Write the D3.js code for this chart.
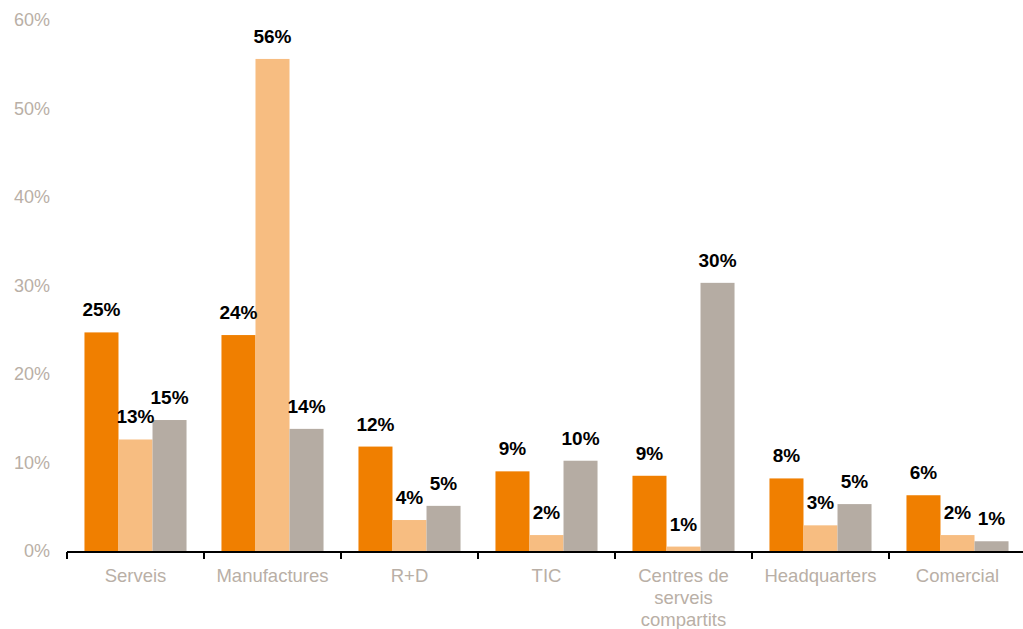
<!DOCTYPE html>
<html>
<head>
<meta charset="utf-8">
<script src="https://cdn.jsdelivr.net/npm/d3@7"></script>
<style>
  body { margin: 0; background: #fff; }
  svg text { font-family: "Liberation Sans", Arial, Helvetica, sans-serif; }
</style>
</head>
<body>
<main></main>
<script>
// categories and series
var categories = ["Serveis", "Manufactures", "R+D", "TIC", "Centres de serveis compartits", "Headquarters", "Comercial"];
var seriesA = [24.7, 24.4, 11.8, 9.0, 8.5, 8.2, 6.3];
var seriesB = [12.6, 55.6, 3.5, 1.8, 0.5, 2.9, 1.8];
var seriesC = [14.8, 13.8, 5.1, 10.2, 30.3, 5.3, 1.1];
var valueLabels = [
  ["25%", "24%", "12%", "9%", "9%", "8%", "6%"],
  ["13%", "56%", "4%", "2%", "1%", "3%", "2%"],
  ["15%", "14%", "5%", "10%", "30%", "5%", "1%"]
];
var yTicks = [0, 10, 20, 30, 40, 50, 60];
var seriesKeys = ["a", "b", "c"];
var colors = { a: "#f07f00", b: "#f7bd81", c: "#b5aca3" };

var svg = d3.select("main").append("svg").attr("width", 1023).attr("height", 629),
    mLeft = 67, mRight = 1026, mTop = 20, mBottom = 551;

var rows = categories.map(function(c, i){
  return { cat: c, i: i, a: seriesA[i], b: seriesB[i], c: seriesC[i] };
});

var x = d3.scaleBand().domain(categories).range([mLeft, mRight]).paddingInner(0.255).paddingOuter(0.1275);
var x1 = d3.scaleBand().domain(seriesKeys).range([0, x.bandwidth()]);
var y = d3.scaleLinear().domain([0, 60]).range([mBottom, mTop]);

// y tick labels (no axis line)
svg.append("g").selectAll("text")
  .data(yTicks)
  .enter().append("text")
    .attr("x", 50)
    .attr("y", d => y(d))
    .attr("dy", "0.35em")
    .attr("text-anchor", "end")
    .attr("fill", "#b9afa6")
    .style("font-size", "18px")
    .text(d => d + "%");

// bars
var groups = svg.append("g").selectAll("g")
  .data(rows)
  .enter().append("g")
    .attr("transform", d => "translate(" + x(d.cat) + ",0)");

function cells(d) {
  return seriesKeys.map((k, j) => ({ key: k, value: d[k], label: valueLabels[j][d.i] }));
}

groups.selectAll("rect")
  .data(cells)
  .enter().append("rect")
    .attr("x", d => x1(d.key))
    .attr("y", d => y(d.value))
    .attr("width", x1.bandwidth())
    .attr("height", d => y(0) - y(d.value))
    .attr("fill", d => colors[d.key]);

groups.selectAll("text")
  .data(cells)
  .enter().append("text")
    .attr("x", d => x1(d.key) + x1.bandwidth() / 2)
    .attr("y", d => y(d.value) - 16)
    .attr("text-anchor", "middle")
    .attr("fill", "#000")
    .style("font-size", "19px")
    .style("font-weight", "bold")
    .text(d => d.label);

// x axis line + ticks between categories
var step = x.step();
var axis = svg.append("g");
axis.append("line")
  .attr("x1", mLeft).attr("x2", mRight)
  .attr("y1", mBottom + 1).attr("y2", mBottom + 1)
  .attr("stroke", "#000").attr("stroke-width", 2);

axis.selectAll(".tick")
  .data(d3.range(categories.length + 1))
  .enter().append("line")
    .attr("class", "tick")
    .attr("x1", i => mLeft + i * step)
    .attr("x2", i => mLeft + i * step)
    .attr("y1", mBottom + 1).attr("y2", mBottom + 8)
    .attr("stroke", "#000").attr("stroke-width", 2);

// category labels, wrapped
function wrap(label) {
  if (label.length < 16) return [label];
  return ["Centres de", "serveis", "compartits"];
}

svg.append("g").selectAll("text")
  .data(categories)
  .enter().append("text")
    .attr("x", d => x(d) + x.bandwidth() / 2)
    .attr("y", 582)
    .attr("text-anchor", "middle")
    .attr("fill", "#b9afa6")
    .style("font-size", "18.5px")
    .each(function(d){
      var t = d3.select(this);
      wrap(d).forEach(function(line, k){
        t.append("tspan")
          .attr("x", x(d) + x.bandwidth() / 2)
          .attr("dy", k === 0 ? 0 : 22)
          .text(line);
      });
    });
</script>
</body>
</html>
